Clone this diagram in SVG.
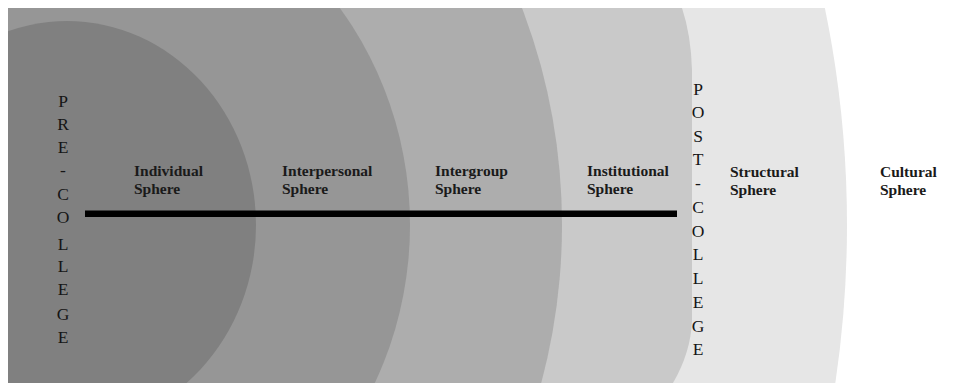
<svg xmlns="http://www.w3.org/2000/svg" width="967" height="383" viewBox="0 0 967 383">
<style>
.lbl{font-family:"Liberation Serif","Times New Roman",serif;font-weight:bold;font-size:15.5px;fill:#1a1a1a}
.vt{font-family:"Liberation Serif","Times New Roman",serif;font-size:17.5px;fill:#151515;text-anchor:middle}
</style>
<defs>
<clipPath id="frame"><rect x="8" y="8" width="959" height="375"/></clipPath>
</defs>
<rect x="0" y="0" width="967" height="383" fill="#ffffff"/>
<g clip-path="url(#frame)">
<g id="cultural-sphere"><ellipse cx="67" cy="225" rx="780" ry="917" fill="#e6e6e6"/></g>
<g id="structural-sphere"><path d="M8,8 L682,8 Q691,35 692,70 L692,320 Q691,352 673,383 L8,383 Z" fill="#c9c9c9"/></g>
<g id="institutional-sphere"><ellipse cx="67" cy="225" rx="495" ry="551" fill="#adadad"/></g>
<g id="intergroup-sphere"><ellipse cx="67" cy="225" rx="343" ry="358" fill="#969696"/></g>
<g id="individual-sphere"><ellipse cx="67" cy="225" rx="189" ry="204" fill="#808080"/></g>
</g>
<g id="connectors">
<rect x="85" y="210.5" width="592" height="6.5" fill="#000"/>
</g>
<g id="label-individual"><text class="lbl" x="134" y="176">Individual</text><text class="lbl" x="134" y="194">Sphere</text></g>
<g id="label-interpersonal"><text class="lbl" x="282" y="176">Interpersonal</text><text class="lbl" x="282" y="194">Sphere</text></g>
<g id="label-intergroup"><text class="lbl" x="435" y="176">Intergroup</text><text class="lbl" x="435" y="194">Sphere</text></g>
<g id="label-institutional"><text class="lbl" x="587" y="176">Institutional</text><text class="lbl" x="587" y="194">Sphere</text></g>
<g id="label-structural"><text class="lbl" x="730" y="177">Structural</text><text class="lbl" x="730" y="195">Sphere</text></g>
<g id="label-cultural"><text class="lbl" x="880" y="177">Cultural</text><text class="lbl" x="880" y="195">Sphere</text></g>
<g id="label-pre-college">
<text class="vt" x="63" y="107">P</text>
<text class="vt" x="63" y="130">R</text>
<text class="vt" x="63" y="153">E</text>
<text class="vt" x="63" y="176">-</text>
<text class="vt" x="63" y="200">C</text>
<text class="vt" x="63" y="223">O</text>
<text class="vt" x="63" y="250">L</text>
<text class="vt" x="63" y="272">L</text>
<text class="vt" x="63" y="295">E</text>
<text class="vt" x="63" y="320">G</text>
<text class="vt" x="63" y="343">E</text>
</g>
<g id="label-post-college">
<text class="vt" x="698" y="95">P</text>
<text class="vt" x="698" y="118">O</text>
<text class="vt" x="698" y="142">S</text>
<text class="vt" x="698" y="165">T</text>
<text class="vt" x="698" y="189">-</text>
<text class="vt" x="698" y="213">C</text>
<text class="vt" x="698" y="237">O</text>
<text class="vt" x="698" y="260">L</text>
<text class="vt" x="698" y="284">L</text>
<text class="vt" x="698" y="308">E</text>
<text class="vt" x="698" y="332">G</text>
<text class="vt" x="698" y="355">E</text>
</g>
</svg>
